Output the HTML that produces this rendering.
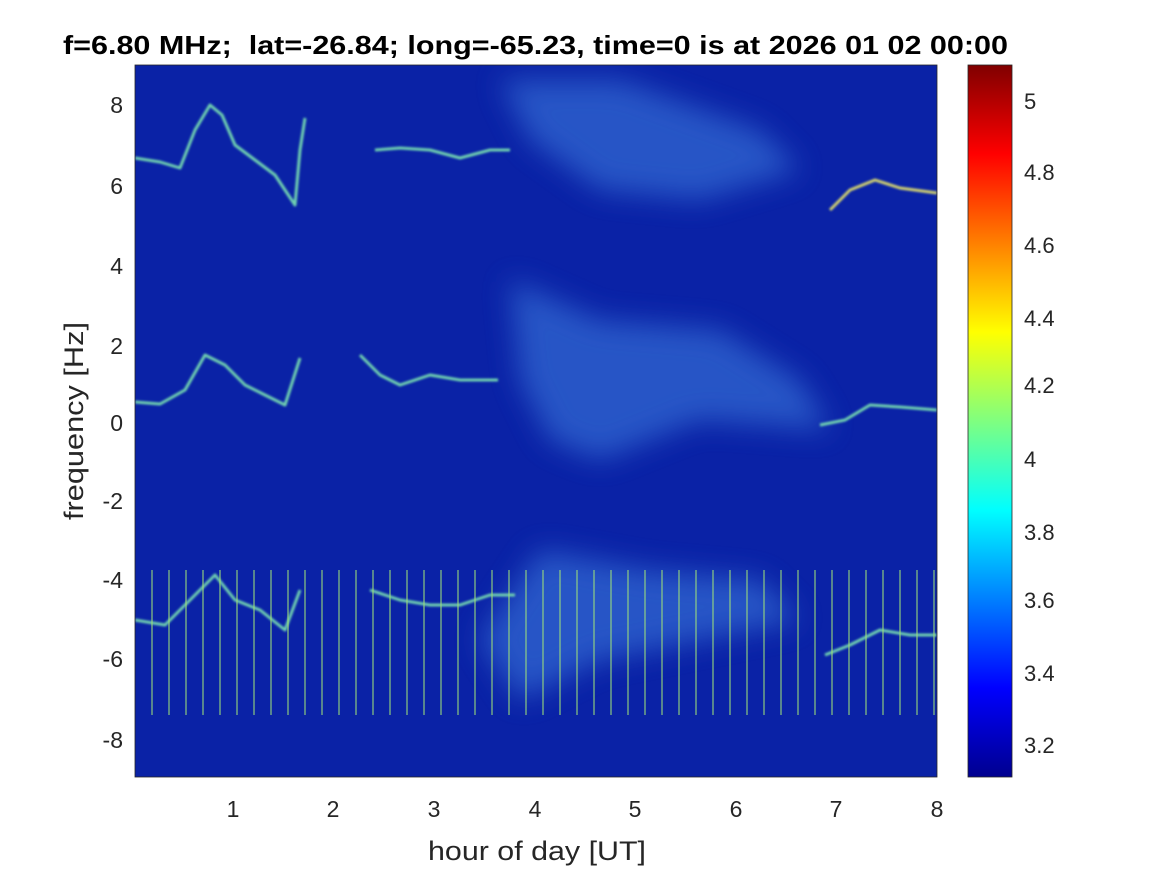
<!DOCTYPE html>
<html><head><meta charset="utf-8"><style>
body{margin:0;background:#fff;}
svg{display:block;font-family:"Liberation Sans",Arial,sans-serif;}
</style></head><body>
<svg width="1167" height="875" viewBox="0 0 1167 875" xmlns="http://www.w3.org/2000/svg">
<defs>
<linearGradient id="jet" x1="0" y1="1" x2="0" y2="0">
<stop offset="0" stop-color="#00008f"/>
<stop offset="0.125" stop-color="#0000ff"/>
<stop offset="0.375" stop-color="#00ffff"/>
<stop offset="0.625" stop-color="#ffff00"/>
<stop offset="0.875" stop-color="#ff0000"/>
<stop offset="1" stop-color="#800000"/>
</linearGradient>
<filter id="b8"><feGaussianBlur stdDeviation="14"/></filter>
<filter id="b2"><feGaussianBlur stdDeviation="1"/></filter>
<clipPath id="pc"><rect x="135" y="65" width="802" height="712"/></clipPath>
</defs>
<rect x="135" y="65" width="802" height="712" fill="#0a22a6"/>
<g clip-path="url(#pc)">
<g filter="url(#b8)" fill="#3a78dc" opacity="0.6">
<path d="M500,80 L620,80 L760,130 L800,170 L700,200 L600,190 L530,140 Z"/>
<path d="M510,280 L600,320 L720,330 L800,380 L830,430 L700,420 L600,460 L550,440 L520,380 Z"/>
<path d="M540,550 L650,570 L760,580 L800,620 L700,640 L600,660 L520,700 L480,640 Z"/>
</g>
<g fill="none" stroke-width="3" stroke-linejoin="round" filter="url(#b2)">
<path stroke="#6fd0b0" d="M135,158 L160,162 L180,168 L195,130 L210,105 L222,115 L235,145 L255,160 L275,175 L295,205 L300,150 L305,118"/>
<path stroke="#6fd0b0" d="M375,150 L400,148 L430,150 L460,158 L490,150 L510,150"/>
<path stroke="#d0d070" d="M830,210 L850,190 L875,180 L900,188 L937,193"/>
<path stroke="#6fd0b0" d="M135,402 L160,404 L185,390 L205,355 L225,365 L245,385 L265,395 L285,405 L300,358"/>
<path stroke="#6fd0b0" d="M360,355 L380,375 L400,385 L430,375 L460,380 L498,380"/>
<path stroke="#6fd0b0" d="M820,425 L845,420 L870,405 L900,407 L937,410"/>
<path stroke="#6fd0b0" d="M135,620 L165,625 L185,605 L215,575 L235,600 L260,610 L285,630 L300,590"/>
<path stroke="#6fd0b0" d="M370,590 L400,600 L430,605 L460,605 L490,595 L515,595"/>
<path stroke="#6fd0b0" d="M825,655 L850,645 L880,630 L910,635 L937,635"/>
</g>
<g stroke="#9ee07a" stroke-width="1.5" opacity="0.7">
<path d="M152,570V715M169,570V715M186,570V715M203,570V715M220,570V715M237,570V715M254,570V715M271,570V715M288,570V715M305,570V715M322,570V715M339,570V715M356,570V715M373,570V715M390,570V715M407,570V715M424,570V715M441,570V715M458,570V715M475,570V715M492,570V715M509,570V715M526,570V715M543,570V715M560,570V715M577,570V715M594,570V715M611,570V715M628,570V715M645,570V715M662,570V715M679,570V715M696,570V715M713,570V715M730,570V715M747,570V715M764,570V715M781,570V715M798,570V715M815,570V715M832,570V715M849,570V715M866,570V715M883,570V715M900,570V715M917,570V715M934,570V715"/>
</g>
</g>
<rect x="135" y="65" width="802" height="712" fill="none" stroke="#262626" stroke-width="0.8"/>
<g font-size="23" fill="#262626" text-anchor="middle">
<text x="233" y="817">1</text><text x="333" y="817">2</text><text x="434" y="817">3</text><text x="535" y="817">4</text>
<text x="635" y="817">5</text><text x="736" y="817">6</text><text x="836" y="817">7</text><text x="937" y="817">8</text>
</g>
<g font-size="23" fill="#262626" text-anchor="end">
<text x="123" y="113">8</text><text x="123" y="194">6</text><text x="123" y="274">4</text><text x="123" y="354">2</text>
<text x="123" y="431">0</text><text x="123" y="509">-2</text><text x="123" y="588">-4</text><text x="123" y="667">-6</text><text x="123" y="748">-8</text>
</g>
<text x="428" y="860" font-size="27" fill="#262626" textLength="218" lengthAdjust="spacingAndGlyphs">hour of day [UT]</text>
<text transform="translate(83,520) rotate(-90)" font-size="27" fill="#262626" textLength="198" lengthAdjust="spacingAndGlyphs">frequency [Hz]</text>
<text x="63" y="54" font-size="26" font-weight="bold" fill="#000" textLength="945" lengthAdjust="spacingAndGlyphs" xml:space="preserve">f=6.80 MHz;  lat=-26.84; long=-65.23, time=0 is at 2026 01 02 00:00</text>
<rect x="968" y="65" width="44" height="712" fill="url(#jet)" stroke="#262626" stroke-width="0.8"/>
<g font-size="22" fill="#262626">
<text x="1024" y="109">5</text><text x="1024" y="180">4.8</text><text x="1024" y="253">4.6</text><text x="1024" y="326">4.4</text>
<text x="1024" y="393">4.2</text><text x="1024" y="467">4</text><text x="1024" y="540">3.8</text><text x="1024" y="608">3.6</text>
<text x="1024" y="681">3.4</text><text x="1024" y="753">3.2</text>
</g>
</svg>
</body></html>
